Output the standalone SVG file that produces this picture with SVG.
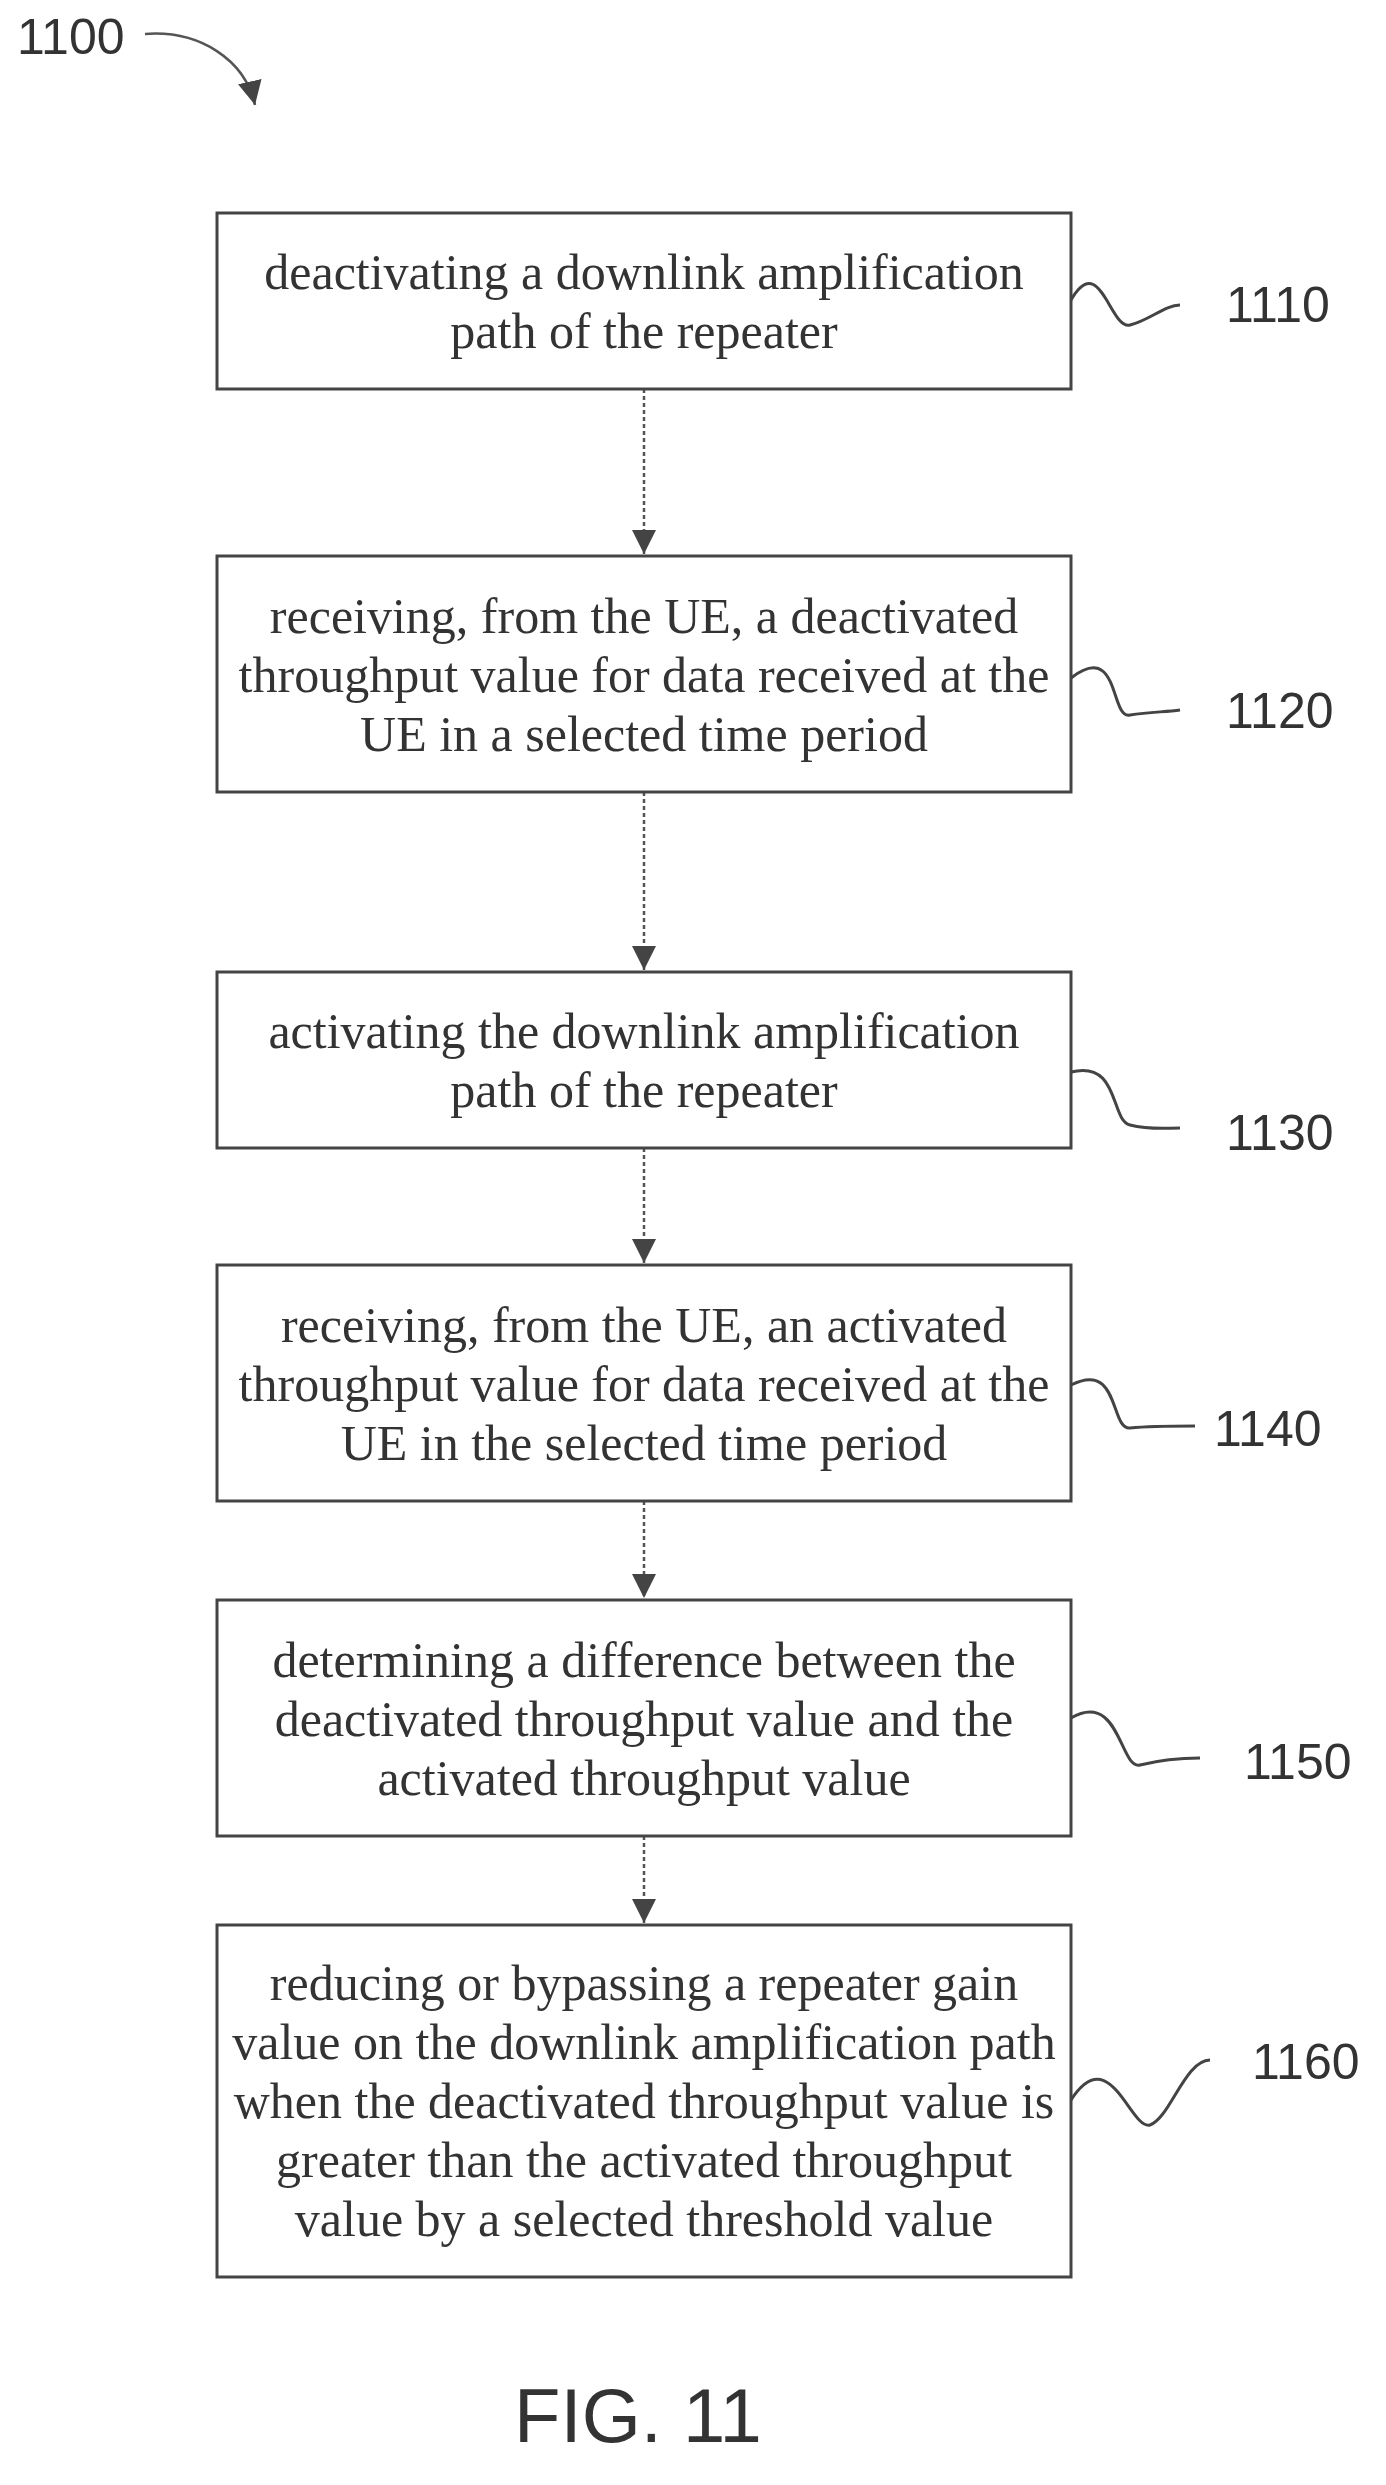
<svg xmlns="http://www.w3.org/2000/svg" width="1386" height="2485" viewBox="0 0 1386 2485">
<style>
.box{fill:#fff;stroke:#444;stroke-width:3}
.t{font-family:"Liberation Serif",serif;font-size:50px;fill:#333;text-anchor:middle}
.lbl{font-family:"Liberation Sans",sans-serif;font-size:50px;fill:#333}
.c{fill:none;stroke:#555;stroke-width:2.5}
.w{fill:none;stroke:#444;stroke-width:3}
</style>
<defs>
<marker id="ah2" markerWidth="24" markerHeight="24" refX="20" refY="10" orient="auto" markerUnits="userSpaceOnUse" viewBox="0 0 20 20"><path d="M0,0 L20,10 L0,20 z" fill="#444"/></marker></defs>
<text class="lbl" x="17" y="54">1100</text>
<path class="c" d="M145,34 C200,30 245,60 255,105" marker-end="url(#ah2)"/>
<g id="connectors">
<line class="c" stroke-dasharray="4,3" x1="644" y1="389" x2="644" y2="554" marker-end="url(#ah2)"/>
<line class="c" stroke-dasharray="4,3" x1="644" y1="792" x2="644" y2="970" marker-end="url(#ah2)"/>
<line class="c" stroke-dasharray="4,3" x1="644" y1="1148" x2="644" y2="1263" marker-end="url(#ah2)"/>
<line class="c" stroke-dasharray="4,3" x1="644" y1="1501" x2="644" y2="1598" marker-end="url(#ah2)"/>
<line class="c" stroke-dasharray="4,3" x1="644" y1="1836" x2="644" y2="1923" marker-end="url(#ah2)"/>
</g>
<g id="n1110"><rect class="box" x="217" y="213" width="854" height="176"/>
<text class="t" x="644" y="289">deactivating a downlink amplification</text>
<text class="t" x="644" y="348">path of the repeater</text>
<path class="w" d="M1071,300 C1100,250 1110,330 1130,325 C1150,320 1165,305 1180,305"/>
<text class="lbl" x="1226" y="322">1110</text></g>
<g id="n1120"><rect class="box" x="217" y="556" width="854" height="236"/>
<text class="t" x="644" y="633">receiving, from the UE, a deactivated</text>
<text class="t" x="644" y="692">throughput value for data received at the</text>
<text class="t" x="644" y="751">UE in a selected time period</text>
<path class="w" d="M1071,678 C1120,640 1110,720 1130,715 C1150,712 1165,712 1180,710"/>
<text class="lbl" x="1226" y="728">1120</text></g>
<g id="n1130"><rect class="box" x="217" y="972" width="854" height="176"/>
<text class="t" x="644" y="1048">activating the downlink amplification</text>
<text class="t" x="644" y="1107">path of the repeater</text>
<path class="w" d="M1071,1072 C1120,1060 1110,1120 1130,1125 C1150,1130 1165,1128 1180,1128"/>
<text class="lbl" x="1226" y="1150">1130</text></g>
<g id="n1140"><rect class="box" x="217" y="1265" width="854" height="236"/>
<text class="t" x="644" y="1342">receiving, from the UE, an activated</text>
<text class="t" x="644" y="1401">throughput value for data received at the</text>
<text class="t" x="644" y="1460">UE in the selected time period</text>
<path class="w" d="M1071,1385 C1120,1360 1110,1430 1130,1428 C1150,1426 1165,1426 1195,1426"/>
<text class="lbl" x="1214" y="1446">1140</text></g>
<g id="n1150"><rect class="box" x="217" y="1600" width="854" height="236"/>
<text class="t" x="644" y="1677">determining a difference between the</text>
<text class="t" x="644" y="1736">deactivated throughput value and the</text>
<text class="t" x="644" y="1795">activated throughput value</text>
<path class="w" d="M1071,1718 C1120,1690 1120,1770 1140,1765 C1160,1760 1175,1758 1200,1758"/>
<text class="lbl" x="1244" y="1779">1150</text></g>
<g id="n1160"><rect class="box" x="217" y="1925" width="854" height="352"/>
<text class="t" x="644" y="2000">reducing or bypassing a repeater gain</text>
<text class="t" x="644" y="2059">value on the downlink amplification path</text>
<text class="t" x="644" y="2118">when the deactivated throughput value is</text>
<text class="t" x="644" y="2177">greater than the activated throughput</text>
<text class="t" x="644" y="2236">value by a selected threshold value</text>
<path class="w" d="M1071,2100 C1110,2040 1130,2130 1150,2125 C1170,2118 1185,2060 1210,2060"/>
<text class="lbl" x="1252" y="2079">1160</text></g>
<text x="638" y="2442" style="font-family:'Liberation Sans',sans-serif;font-size:76px;fill:#333;text-anchor:middle">FIG. 11</text>
</svg>
